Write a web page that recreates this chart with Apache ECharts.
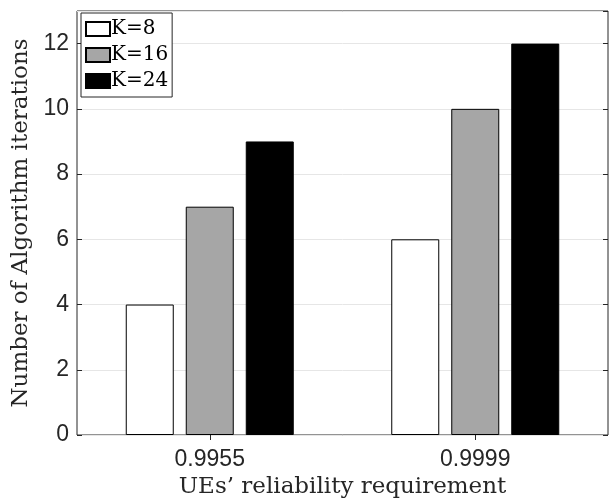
<!DOCTYPE html>
<html><head><meta charset="utf-8">
<script src="https://cdn.jsdelivr.net/npm/echarts@6/dist/echarts.min.js"></script>
<style>html,body{margin:0;padding:0;background:#fff}#c{width:610px;height:500px}</style>
</head><body><div id="c"></div>
<script>
const categories = ['0.9955', '0.9999'];
const seriesNames = ['K=8', 'K=16', 'K=24'];
const k8 = [4, 6];
const k16 = [7, 10];
const k24 = [9, 12];
const yMax = 13;

const colors = ['#ffffff', '#a6a6a6', '#000000'];
const dataSets = [k8, k16, k24];
const serif = '"DejaVu Serif",serif';
const sans = '"Liberation Sans",Arial,sans-serif';

const chart = echarts.init(document.getElementById('c'), null, {renderer: 'canvas'});
chart.setOption({
  animation: false,
  backgroundColor: '#fff',
  grid: {left: 77, top: 11, width: 531, height: 424, containLabel: false, outerBoundsMode: 'none',
         show: true, borderColor: '#262626', borderWidth: 1, backgroundColor: 'transparent'},
  legend: {
    orient: 'vertical', left: 81, top: 13, data: seriesNames,
    icon: 'rect', itemWidth: 24, itemHeight: 14, itemGap: 6,
    padding: [6, 4, 6, 4], borderColor: '#262626', borderWidth: 1, backgroundColor: '#fff',
    textStyle: {fontFamily: serif, fontSize: 20, color: '#000', padding: [0, 0, 0, -4]}
  },
  xAxis: [{
    type: 'category', data: categories,
    axisLine: {show: false}, axisTick: {show: true, inside: true, alignWithLabel: true, length: 5, lineStyle: {color: '#262626'}},
    axisLabel: {fontFamily: sans, fontSize: 23, color: '#262626', margin: 13},
    name: 'UEs\u2019 reliability requirement', nameLocation: 'middle', nameGap: 39,
    nameTextStyle: {fontFamily: serif, fontSize: 23, color: '#262626'}
  }, {
    type: 'category', data: categories, position: 'top',
    axisLine: {show: false}, axisTick: {show: true, inside: true, alignWithLabel: true, length: 5, lineStyle: {color: '#262626'}},
    axisLabel: {show: false}
  }],
  yAxis: [{
    type: 'value', min: 0, max: yMax, interval: 2,
    axisLine: {show: false},
    axisTick: {show: true, inside: true, length: 5, lineStyle: {color: '#262626'}},
    axisLabel: {fontFamily: sans, fontSize: 23, color: '#262626', margin: 8, showMaxLabel: false},
    splitLine: {show: true, lineStyle: {color: '#e6e6e6', width: 1}},
    name: 'Number of Algorithm iterations', nameLocation: 'middle', nameGap: 40,
    nameTextStyle: {fontFamily: serif, fontSize: 23, color: '#262626'}
  }, {
    type: 'value', min: 0, max: yMax, interval: 2, position: 'right',
    axisLine: {show: false},
    axisTick: {show: true, inside: true, length: 5, lineStyle: {color: '#262626'}},
    axisLabel: {show: false}, splitLine: {show: false}
  }],
  series: dataSets.map(function(d, i){
    return {
      type: 'bar', name: seriesNames[i], data: d, barWidth: 48, barGap: '25%',
      itemStyle: {color: colors[i], borderColor: '#000', borderWidth: 1}
    };
  })
});
</script></body></html>
